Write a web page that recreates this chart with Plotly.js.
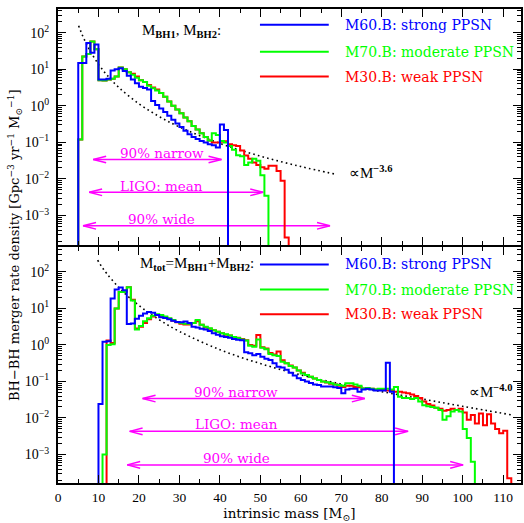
<!DOCTYPE html>
<html>
<head>
<meta charset="utf-8">
<script src="https://cdn.plot.ly/plotly-3.0.1.min.js"></script>
<style>html,body{margin:0;padding:0;background:#fff;}#chart{width:524px;height:523px;}</style>
</head>
<body>
<div id="chart"></div>
<script>
// ---------- DATA (stored as log10 of the rate density) ----------
// Upper panel: individual BH masses (M_BH1, M_BH2), bins of 1 Msun starting at given mass
const bhStart_M60 = 5;
const bhLog10_M60 = [1.17,1.17,1.72,1.45,1.68,0.72,0.72,0.74,0.97,1.0,1.03,0.95,0.82,0.72,0.62,0.52,0.49,0.45,0.13,0.02,-0.07,-0.17,-0.27,-0.38,-0.48,-0.58,-0.68,-0.78,-0.85,-0.91,-0.96,-1.0,-1.05,-1.08,-1.14,-0.51,-0.66];
const bhStart_M70 = 5;
const bhLog10_M70 = [-0.92,1.35,1.42,1.76,1.55,0.70,0.69,0.72,0.74,0.80,1.05,1.0,0.92,0.85,0.77,0.70,0.65,0.55,0.48,0.42,0.35,0.25,0.12,0.0,-0.1,-0.2,-0.32,-0.42,-0.55,-0.65,-0.75,-0.85,-0.95,-0.75,-0.8,-0.96,-1.0,-1.1,-1.2,-1.35,-1.38,-1.62,-1.55,-1.45,-1.5,-1.9,-2.46];
const bhStart_M30 = 5;
const bhLog10_M30 = [-0.92,1.35,1.42,1.76,1.55,0.70,0.69,0.72,0.74,0.80,1.05,1.0,0.92,0.88,0.80,0.70,0.65,0.57,0.50,0.45,0.35,0.25,0.12,0.0,-0.1,-0.2,-0.32,-0.42,-0.55,-0.65,-0.75,-0.85,-0.95,-1.0,-1.0,-0.98,-0.97,-1.05,-1.08,-1.1,-1.22,-1.36,-1.45,-1.55,-1.62,-1.68,-1.72,-1.64,-1.64,-1.78,-2.05,-3.6];

// Lower panel: total mass M_tot = M_BH1 + M_BH2
const totStart_M60 = 10;
const totLog10_M60 = [-1.62,0.09,0.1,1.27,1.52,1.57,1.5,0.57,0.59,0.72,0.8,0.86,0.9,0.88,0.82,0.76,0.74,0.7,0.66,0.63,0.62,0.64,0.6,0.5,0.48,0.44,0.42,0.38,0.32,0.28,0.24,0.22,0.2,0.16,0.14,0.13,-0.2,-0.23,-0.28,-0.25,-0.32,-0.38,-0.41,-0.5,-0.6,-0.62,-0.68,-0.76,-0.84,-0.91,-0.96,-1.0,-1.04,-1.08,-1.1,-1.14,-1.14,-1.14,-1.16,-1.18,-1.32,-1.22,-1.2,-1.2,-1.28,-1.22,-1.2,-1.22,-1.25,-1.25,-1.25,-0.49,-1.28];
const totStart_M70 = 11;
const totLog10_M70 = [-3.0,0.0,0.02,1.0,1.45,1.45,1.58,1.22,0.42,0.52,0.65,0.73,0.8,0.84,0.82,0.78,0.73,0.68,0.63,0.6,0.58,0.58,0.6,0.68,0.55,0.5,0.46,0.4,0.36,0.32,0.29,0.26,0.22,0.19,0.15,0.12,-0.02,-0.05,0.15,-0.08,-0.12,-0.25,-0.28,-0.3,-0.46,-0.5,-0.58,-0.62,-0.7,-0.78,-0.82,-0.87,-0.92,-0.96,-1.0,-1.02,-1.05,-1.08,-1.1,-1.12,-1.05,-1.05,-1.08,-1.12,-1.2,-1.18,-1.2,-1.22,-1.2,-1.2,-1.2,-1.22,-1.15,-1.42,-1.45,-1.45,-1.48,-1.45,-1.55,-1.65,-1.68,-1.7,-1.72,-1.78,-2.05,-1.95,-1.82,-1.78,-1.82,-2.3,-2.55,-3.2];
const totStart_M30 = 12;
const totLog10_M30 = [0.12,0.05,1.0,1.45,1.48,1.58,1.24,0.45,0.5,0.6,0.7,0.78,0.82,0.8,0.76,0.72,0.66,0.62,0.58,0.56,0.56,0.6,0.65,0.55,0.48,0.44,0.4,0.36,0.32,0.28,0.26,0.22,0.2,0.16,0.13,0.0,-0.02,0.27,-0.06,-0.1,-0.22,-0.26,-0.18,-0.42,-0.5,-0.56,-0.62,-0.7,-0.76,-0.82,-0.87,-0.92,-0.96,-1.0,-1.03,-1.06,-1.08,-1.12,-1.15,-1.12,-1.12,-1.15,-1.15,-1.2,-1.2,-1.2,-1.22,-1.22,-1.22,-1.25,-1.25,-1.28,-1.28,-1.3,-1.32,-1.36,-1.4,-1.45,-1.55,-1.62,-1.66,-1.72,-1.75,-1.8,-1.78,-1.75,-1.78,-1.75,-1.85,-2.05,-1.92,-2.15,-1.88,-2.2,-1.9,-2.15,-2.3,-2.42,-2.35,-3.65];

// Dotted power-law guides
const law36_mass  = [5.1, 6, 7, 8, 10, 12, 15, 20, 25, 30, 40, 50, 60, 68.5];
const law36_log10 = [2.19, 1.94, 1.70, 1.49, 1.14, 0.855, 0.506, 0.056, -0.292, -0.578, -1.027, -1.376, -1.661, -1.869];
const law40_mass  = [9.8, 11, 12, 14, 16, 20, 25, 30, 40, 50, 60, 70, 80, 90, 100, 112.3];
const law40_log10 = [2.32, 2.11, 1.96, 1.70, 1.46, 1.08, 0.69, 0.37, -0.13, -0.51, -0.82, -1.07, -1.28, -1.48, -1.68, -1.92];

// LIGO mass ranges (double arrows): [from, to, rate level]
const rangeLabels = ['90% narrow', 'LIGO: mean', '90% wide'];
const bhRanges  = [[8.7, 40.4, 0.034], [7.7, 50.7, 0.0043], [6.2, 67.2, 0.00052]];
const totRanges = [[20.9, 75.8, 0.034], [17.7, 86.5, 0.0043], [17.1, 100.1, 0.00052]];

const seriesNames = ['M60.B: strong PPSN', 'M70.B: moderate PPSN', 'M30.B: weak PPSN'];
const seriesColors = ['#0000ff', '#00ff00', '#ff0000'];

const xTickVals = [0,10,20,30,40,50,60,70,80,90,100,110];
const yTickVals = [1e-3, 1e-2, 1e-1, 1, 10, 100];
const yTickText = ['10<sup>−3</sup>','10<sup>−2</sup>','10<sup>−1</sup>','10<sup>0</sup>','10<sup>1</sup>','10<sup>2</sup>'];

// ---------- BUILD ----------
const FLOOR = 1e-7; // represents an empty bin (below the axis)
function steps(start, logs) {
  const x = [start], y = [FLOOR];
  logs.forEach((v, i) => { x.push(start + i); y.push(Math.pow(10, v)); });
  x.push(start + logs.length); y.push(FLOOR);
  return {x, y};
}
function histTrace(start, logs, color, xa, ya) {
  const s = steps(start, logs);
  return {type:'scatter', mode:'lines', x:s.x, y:s.y, xaxis:xa, yaxis:ya,
          line:{color:color, width:2, shape:'hv'}, showlegend:false, hoverinfo:'skip'};
}
function lawTrace(ms, logs, xa, ya) {
  return {type:'scatter', mode:'lines', x:ms, y:logs.map(v => Math.pow(10, v)), xaxis:xa, yaxis:ya,
          line:{color:'black', width:1.6, dash:'1.6px,3.2px', shape:'spline'}, showlegend:false, hoverinfo:'skip'};
}
const HL = 3.2, HK = Math.pow(10, 0.09);
function arrowTrace(r, xa, ya) {
  const [x0, x1, y] = r;
  return {type:'scatter', mode:'lines', xaxis:xa, yaxis:ya, showlegend:false, hoverinfo:'skip',
    x:[x0+HL, x0, x0+HL, null, x0, x1, null, x1-HL, x1, x1-HL],
    y:[y*HK, y, y/HK, null, y, y, null, y*HK, y, y/HK],
    line:{color:'#ff00ff', width:1.5}};
}

const traces = [];
// upper panel (x2, y2)
traces.push(lawTrace(law36_mass, law36_log10, 'x2', 'y2'));
bhRanges.forEach(r => traces.push(arrowTrace(r, 'x2', 'y2')));
traces.push(histTrace(bhStart_M30, bhLog10_M30, seriesColors[2], 'x2', 'y2'));
traces.push(histTrace(bhStart_M70, bhLog10_M70, seriesColors[1], 'x2', 'y2'));
traces.push(histTrace(bhStart_M60, bhLog10_M60, seriesColors[0], 'x2', 'y2'));
// lower panel (x, y)
traces.push(lawTrace(law40_mass, law40_log10, 'x', 'y'));
totRanges.forEach(r => traces.push(arrowTrace(r, 'x', 'y')));
traces.push(histTrace(totStart_M30, totLog10_M30, seriesColors[2], 'x', 'y'));
traces.push(histTrace(totStart_M70, totLog10_M70, seriesColors[1], 'x', 'y'));
traces.push(histTrace(totStart_M60, totLog10_M60, seriesColors[0], 'x', 'y'));

// minor ticks
const yMinor = [];
for (let e = -4; e <= 2; e++) for (let k = 2; k <= 9; k++) yMinor.push(k * Math.pow(10, e));

const tickFont = {family:'Liberation Serif, serif', size:14, color:'black'};
const xTickFont = {family:'Liberation Serif, serif', size:13.5, color:'black'};

function xAxis(anchor, showLabels) {
  return {anchor:anchor, range:[0, 114.4], showline:true, linecolor:'black', linewidth:2, mirror:'allticks',
    ticks:'inside', ticklen:8, tickwidth:1, tickcolor:'black', tickmode:'array', tickvals:xTickVals,
    showticklabels:showLabels, tickfont:xTickFont, ticklabelstandoff:1,
    minor:{ticks:'inside', ticklen:4, tickwidth:1, tickcolor:'black', dtick:5, tick0:0, showgrid:false},
    showgrid:false, zeroline:false, fixedrange:true, automargin:false};
}
function yAxis(domain, range, anchor) {
  return {type:'log', domain:domain, range:range, anchor:anchor, showline:true, linecolor:'black', linewidth:2,
    mirror:'allticks', ticks:'inside', ticklen:8, tickwidth:1, tickcolor:'black',
    tickmode:'array', tickvals:yTickVals, ticktext:yTickText, tickfont:tickFont, ticklabelstandoff:4,
    minor:{ticks:'inside', ticklen:4, tickwidth:1, tickcolor:'black', tickmode:'array', tickvals:yMinor, showgrid:false},
    showgrid:false, zeroline:false, fixedrange:true, automargin:false};
}

const annotations = [];
const shapes = [];
function panelDecor(xa, ya, title, titleX, titleY, legY, lawText, lawX, lawY, labelX, labelYs) {
  annotations.push({xref:xa, yref:ya+' domain', x:titleX, y:titleY, xanchor:'left', yanchor:'middle', showarrow:false,
    text:title, font:{family:'Liberation Serif, serif', size:15, color:'black'}});
  seriesNames.forEach((n, i) => {
    shapes.push({type:'line', xref:xa, yref:ya+' domain', x0:49.9, x1:66.9, y0:legY[i], y1:legY[i],
      line:{color:seriesColors[i], width:2}});
    annotations.push({xref:xa, yref:ya+' domain', x:70.3, y:legY[i], xanchor:'left', yanchor:'middle', showarrow:false,
      text:n, font:{family:'DejaVu Serif, serif', size:14, color:seriesColors[i]}});
  });
  annotations.push({xref:xa, yref:ya+' domain', x:lawX, y:lawY, xanchor:'left', yanchor:'middle', showarrow:false,
    text:lawText, font:{family:'Liberation Serif, serif', size:15, color:'black'}});
  rangeLabels.forEach((t, i) => {
    annotations.push({xref:xa, yref:ya+' domain', x:labelX, y:labelYs[i], xanchor:'center', yanchor:'middle', showarrow:false,
      text:t, font:{family:'DejaVu Serif, serif', size:13.5, color:'#ff00ff'}});
  });
}
panelDecor('x2', 'y2', 'M<sub><b>BH1</b></sub>, M<sub><b>BH2</b></sub>:', 20.2, 0.908, [0.933, 0.819, 0.714],
  '∝M<sup><b>−3.6</b></sup>', 71.4, 0.311, 25.6, [0.391, 0.252, 0.113]);
panelDecor('x', 'y', 'M<sub><b>tot</b></sub>=M<sub><b>BH1</b></sub>+M<sub><b>BH2</b></sub>:', 19.7, 0.928, [0.928, 0.821, 0.716],
  '∝M<sup><b>−4.0</b></sup>', 101, 0.390, 44.1, [0.386, 0.25, 0.106]);

// y label spans both panels
annotations.push({xref:'paper', yref:'paper', x:-0.093, y:0.502, xanchor:'center', yanchor:'middle', showarrow:false, textangle:-90,
  text:'BH−BH merger rate density [Gpc<sup>−3</sup> yr<sup>−1</sup> M<sub>⊙</sub><sup>−1</sup>]',
  font:{family:'DejaVu Serif, serif', size:13, color:'black'}});

const xBottom = xAxis('y', true);
xBottom.title = {text:'intrinsic mass [M<sub>⊙</sub>]', font:{family:'DejaVu Serif, serif', size:13.5, color:'black'}, standoff:4};

const layout = {
  width:524, height:523, margin:{l:58, r:3, t:9, b:40},
  paper_bgcolor:'white', plot_bgcolor:'white', showlegend:false,
  xaxis:xBottom,
  xaxis2:Object.assign(xAxis('y2', false), {matches:'x'}),
  yaxis:yAxis([0, 0.497], [-3.78, 2.67], 'x'),
  yaxis2:yAxis([0.5012, 1], [-3.82, 2.65], 'x2'),
  annotations:annotations, shapes:shapes
};
Plotly.newPlot('chart', traces, layout, {staticPlot:true, displayModeBar:false});
</script>
</body>
</html>
